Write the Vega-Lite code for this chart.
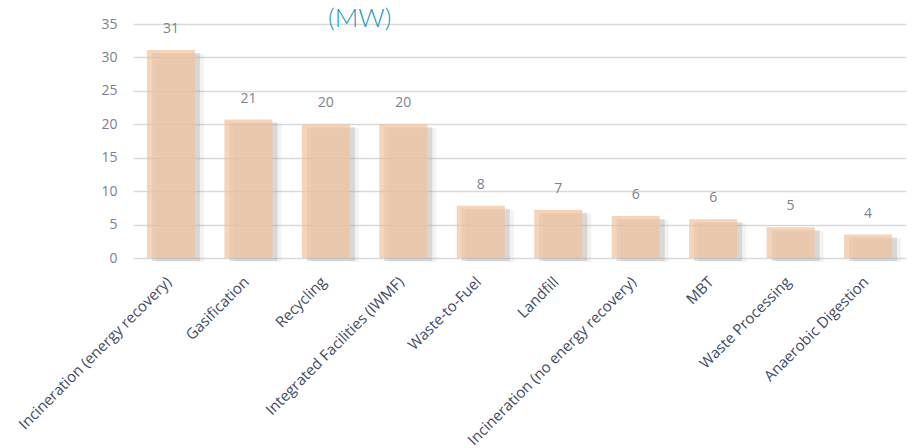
{
  "$schema": "https://vega.github.io/schema/vega-lite/v6.json",
  "autosize": {"type": "none"},
  "padding": {"left": 133, "top": 24, "right": 7, "bottom": 190},
  "width": 773,
  "height": 234,
  "title": {
    "text": "(MW)",
    "anchor": "start",
    "frame": "group",
    "dx": 195,
    "offset": -36,
    "baseline": "alphabetic",
    "fontSize": 26,
    "font": "Lato",
    "fontWeight": 300,
    "color": "#2a9bb5"
  },
  "data": {
    "values": [
      {"category": "Incineration (energy recovery)", "mw": 31.1},
      {"category": "Gasification", "mw": 20.7},
      {"category": "Recycling", "mw": 20.0},
      {"category": "Integrated Facilities (IWMF)", "mw": 20.0},
      {"category": "Waste-to-Fuel", "mw": 7.8},
      {"category": "Landfill", "mw": 7.2},
      {"category": "Incineration (no energy recovery)", "mw": 6.3},
      {"category": "MBT", "mw": 5.8},
      {"category": "Waste Processing", "mw": 4.6},
      {"category": "Anaerobic Digestion", "mw": 3.5}
    ]
  },
  "encoding": {
    "x": {
      "field": "category",
      "type": "nominal",
      "sort": null,
      "scale": {"paddingInner": 0.38, "paddingOuter": 0.18},
      "axis": {
        "title": null,
        "labelAngle": -45,
        "labelAlign": "right",
        "labelBaseline": "top",
        "labelPadding": 16,
        "labelOffset": -7,
        "labelFontSize": 15,
        "labelFont": "Open Sans",
        "labelColor": "#3e4a63",
        "labelLimit": 400,
        "ticks": false,
        "domain": false,
        "grid": false
      }
    },
    "y": {
      "field": "mw",
      "type": "quantitative",
      "scale": {"domain": [0, 35], "nice": false},
      "axis": {
        "title": null,
        "values": [0, 5, 10, 15, 20, 25, 30, 35],
        "labelFontSize": 14,
        "labelFont": "Open Sans",
        "labelColor": "#7b8293",
        "labelPadding": 16,
        "ticks": false,
        "domain": false,
        "grid": true,
        "gridColor": "#d9d9d9",
        "gridWidth": 1.5
      }
    }
  },
  "layer": [
    {
      "mark": {"type": "bar", "color": "#9a9a9a", "opacity": 0.12, "xOffset": 9, "yOffset": 4}
    },
    {
      "mark": {"type": "bar", "color": "#9a9a9a", "opacity": 0.3, "xOffset": 5, "yOffset": 3}
    },
    {
      "mark": {"type": "bar", "color": "#F2C29C", "opacity": 0.7}
    },
    {
      "mark": {"type": "text", "dy": -21, "baseline": "middle", "fontSize": 14, "font": "Open Sans", "color": "#7b8293"},
      "encoding": {
        "text": {"field": "mw", "type": "quantitative", "format": ".0f"}
      }
    }
  ],
  "config": {
    "view": {"stroke": null}
  }
}
